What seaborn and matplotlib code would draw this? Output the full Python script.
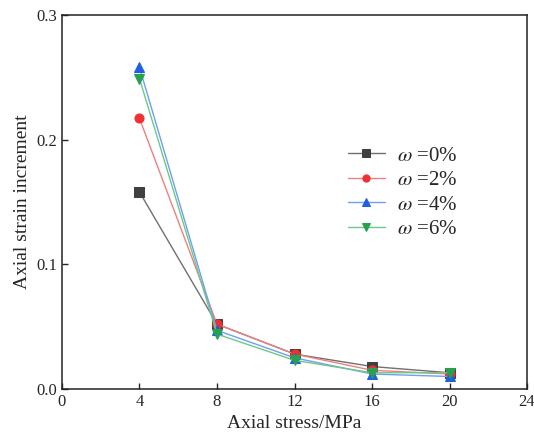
import pandas as pd
import numpy as np
import matplotlib.pyplot as plt
import seaborn as sns

# axial stress (MPa) and strain increment per water content
stress = [4, 8, 12, 16, 20]
w0 = [0.158, 0.052, 0.028, 0.018, 0.013]
w2 = [0.217, 0.052, 0.028, 0.015, 0.012]
w4 = [0.258, 0.047, 0.025, 0.012, 0.010]
w6 = [0.249, 0.044, 0.023, 0.013, 0.013]
labels = ['$\\omega$ =0%', '$\\omega$ =2%', '$\\omega$ =4%', '$\\omega$ =6%']

rows = []
for lab, vals in zip(labels, [w0, w2, w4, w6]):
    for s, v in zip(stress, vals):
        rows.append({'stress': s, 'strain': v, 'group': lab})
df = pd.DataFrame(rows)

sns.set_style('ticks')
plt.rcParams['font.family'] = ['Liberation Serif', 'DejaVu Serif']
plt.rcParams['mathtext.fontset'] = 'stix'

line_cols = ['#707070', '#f08080', '#6f9ff0', '#6cc98a']
mark_cols = ['#404040', '#f03030', '#1f5fe0', '#27a050']
markers = ['s', 'o', '^', 'v']

fig = plt.figure(figsize=(5.34, 4.41), dpi=100)
ax = fig.add_axes([0.116, 0.118, 0.871, 0.848])

for lab, lc, mc, mk in zip(labels, line_cols, mark_cols, markers):
    sub = df[df['group'] == lab]
    sns.lineplot(data=sub, x='stress', y='strain', ax=ax, color=lc, lw=1,
                 marker=mk, markersize=6.5, markerfacecolor=mc,
                 markeredgecolor=mc, label=lab)

ax.set_xlim(0, 24)
ax.set_ylim(0, 0.3)
ax.set_xticks([0, 4, 8, 12, 16, 20, 24])
ax.set_yticks([0, 0.1, 0.2, 0.3])
ax.set_yticklabels(['0.0', '0.1', '0.2', '0.3'])
ax.tick_params(direction='in', length=4, labelsize=12, width=1)
for sp in ax.spines.values():
    sp.set_linewidth(1.1)
    sp.set_color('#222222')
ax.set_xlabel('Axial stress/MPa', fontsize=14)
ax.set_ylabel('Axial strain increment', fontsize=14)

leg = ax.legend(loc='upper left', bbox_to_anchor=(0.575, 0.7), frameon=False,
                fontsize=15, handlelength=1.75, labelspacing=0.24,
                markerscale=0.8, handletextpad=0.6)

fig.savefig('out.png', dpi=100)
